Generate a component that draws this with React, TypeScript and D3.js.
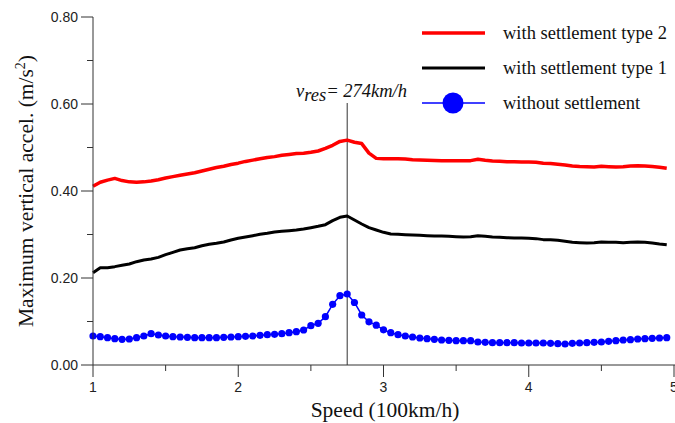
import React from "react";
import * as d3 from "d3";

const speeds: number[] = d3.range(0, 80).map((i) => +(1 + i * 0.05).toFixed(2));

const type2: number[] = [
  0.411, 0.42, 0.425, 0.429, 0.424, 0.421, 0.42, 0.421, 0.423, 0.426,
  0.43, 0.433, 0.436, 0.439, 0.442, 0.446, 0.45, 0.454, 0.457, 0.461,
  0.464, 0.468, 0.471, 0.474, 0.477, 0.479, 0.482, 0.484, 0.486, 0.487,
  0.489, 0.492, 0.498, 0.505, 0.514, 0.517, 0.512, 0.509, 0.487, 0.475,
  0.474, 0.474, 0.474, 0.4736, 0.472, 0.4713, 0.4706, 0.4702, 0.4698, 0.4698,
  0.4698, 0.4698, 0.4698, 0.4728, 0.4706, 0.469, 0.4683, 0.4675, 0.4671, 0.4667,
  0.4664, 0.466, 0.4637, 0.463, 0.4614, 0.4598, 0.4576, 0.4561, 0.4557, 0.4553,
  0.4568, 0.456, 0.4553, 0.456, 0.4576, 0.4583, 0.4576, 0.4561, 0.4545, 0.4521,
];

const type1: number[] = [
  0.2123, 0.2238, 0.2238, 0.2261, 0.2291, 0.2322, 0.2375, 0.2414, 0.2437, 0.2475,
  0.2536, 0.259, 0.2644, 0.2674, 0.2697, 0.2743, 0.2774, 0.2797, 0.2828, 0.2874,
  0.2912, 0.2943, 0.2973, 0.3004, 0.3027, 0.3057, 0.3073, 0.3088, 0.3103, 0.3126,
  0.3157, 0.3188, 0.3226, 0.3318, 0.3395, 0.3425, 0.3333, 0.3241, 0.3157, 0.3103,
  0.305, 0.3011, 0.3004, 0.2996, 0.2989, 0.2981, 0.2973, 0.2966, 0.2966, 0.2958,
  0.295, 0.2943, 0.295, 0.2973, 0.2958, 0.2943, 0.2935, 0.2928, 0.292, 0.292,
  0.2912, 0.2905, 0.2882, 0.2882, 0.2866, 0.2843, 0.282, 0.2813, 0.2805, 0.2813,
  0.2828, 0.282, 0.282, 0.2813, 0.282, 0.2828, 0.282, 0.2805, 0.2782, 0.2763,
];

const noSettlement: number[] = [
  0.0667, 0.0651, 0.0628, 0.0605, 0.059, 0.0598, 0.0628, 0.0667, 0.072, 0.069,
  0.0667, 0.0651, 0.0644, 0.0636, 0.0628, 0.0628, 0.0628, 0.0628, 0.0636, 0.0644,
  0.0651, 0.066, 0.0667, 0.0682, 0.0697, 0.0705, 0.072, 0.0743, 0.0766, 0.0805,
  0.0904, 0.0958, 0.111, 0.1395, 0.1594, 0.1632, 0.1437, 0.115, 0.0992, 0.0916,
  0.0808, 0.0743, 0.0697, 0.0667, 0.0644, 0.0621, 0.0605, 0.059, 0.0575, 0.0567,
  0.0559, 0.0559, 0.0559, 0.0529, 0.0521, 0.0513, 0.0513, 0.0513, 0.0513, 0.0506,
  0.0506, 0.0506, 0.0506, 0.0498, 0.049, 0.0483, 0.0498, 0.0506, 0.0513, 0.0521,
  0.0529, 0.0544, 0.0559, 0.0575, 0.0582, 0.0598, 0.0605, 0.0613, 0.0621, 0.0628,
];

const yMajorTicks: number[] = [0, 0.2, 0.4, 0.6, 0.8];
const yMinorTicks: number[] = [0.1, 0.3, 0.5, 0.7];
const xMajorTicks: number[] = [1, 2, 3, 4, 5];
const xMinorTicks: number[] = [1.5, 2.5, 3.5, 4.5];
const vRes = 2.75;

const legendItems = [
  { label: "with settlement type 2", color: "#ff0000", width: 3.5, marker: false },
  { label: "with settlement type 1", color: "#000000", width: 3, marker: false },
  { label: "without settlement", color: "#0000ff", width: 1.5, marker: true },
];

export default function App() {
  const W = 675;
  const H = 423;
  const x = d3.scaleLinear().domain([1, 5]).range([93, 674]);
  const y = d3.scaleLinear().domain([0, 0.8]).range([365, 17]);

  const line = d3
    .line<[number, number]>()
    .x((d) => x(d[0]))
    .y((d) => y(d[1]));

  const toPts = (vals: number[]) => vals.map((v, i) => [speeds[i], v] as [number, number]);

  const serif = "'Liberation Serif', 'Times New Roman', serif";
  const sans = "'Liberation Sans', Arial, sans-serif";
  const axisColor = "#333";

  return (
    <svg
      width={W}
      height={H}
      style={{ position: "absolute", left: 0, top: 0, background: "#fff" }}
    >
      {/* resonance line */}
      <line x1={x(vRes)} x2={x(vRes)} y1={103} y2={y(0)} stroke="#333" strokeWidth={1} />

      {/* series */}
      <path d={line(toPts(type2)) || ""} fill="none" stroke="#ff0000" strokeWidth={3.5} strokeLinejoin="round" />
      <path d={line(toPts(type1)) || ""} fill="none" stroke="#000" strokeWidth={3} strokeLinejoin="round" />
      <path d={line(toPts(noSettlement)) || ""} fill="none" stroke="#0000ff" strokeWidth={1.5} />
      {noSettlement.map((v, i) => (
        <circle key={i} cx={x(speeds[i])} cy={y(v)} r={3.6} fill="#0000ff" />
      ))}

      {/* axes */}
      <line x1={x(1)} x2={x(1)} y1={y(0.8)} y2={y(0)} stroke={axisColor} strokeWidth={1} />
      <line x1={x(1)} x2={W} y1={y(0)} y2={y(0)} stroke={axisColor} strokeWidth={1} />
      {yMajorTicks.map((t) => (
        <g key={"ym" + t}>
          <line x1={x(1) - 12} x2={x(1)} y1={y(t)} y2={y(t)} stroke={axisColor} />
          <text x={x(1) - 15} y={y(t)} dy="0.35em" textAnchor="end" fontFamily={sans} fontSize={14} fill="#222">
            {t.toFixed(2)}
          </text>
        </g>
      ))}
      {yMinorTicks.map((t) => (
        <line key={"yn" + t} x1={x(1) - 6} x2={x(1)} y1={y(t)} y2={y(t)} stroke={axisColor} />
      ))}
      {xMajorTicks.map((t) => (
        <g key={"xm" + t}>
          <line x1={x(t)} x2={x(t)} y1={y(0)} y2={y(0) + 12} stroke={axisColor} />
          <text x={x(t)} y={392} textAnchor="middle" fontFamily={sans} fontSize={14} fill="#222">
            {t}
          </text>
        </g>
      ))}
      {xMinorTicks.map((t) => (
        <line key={"xn" + t} x1={x(t)} x2={x(t)} y1={y(0)} y2={y(0) + 6} stroke={axisColor} />
      ))}

      {/* axis titles */}
      <text x={385} y={417} textAnchor="middle" fontFamily={serif} fontSize={21.5} fill="#111">
        Speed (100km/h)
      </text>
      <text
        transform={`translate(33, 191) rotate(-90)`}
        textAnchor="middle"
        fontFamily={serif}
        fontSize={21.5}
        fill="#111"
      >
        Maximum vertical accel. (m/s
        <tspan dy={-8} fontSize={14}>2</tspan>
        <tspan dy={8}>)</tspan>
      </text>

      {/* annotation */}
      <text x={296} y={97} fontFamily={serif} fontStyle="italic" fontSize={18.5} fill="#111">
        v
        <tspan dy={4}>res</tspan>
        <tspan dy={-4}>= 274km/h</tspan>
      </text>

      {/* legend */}
      {legendItems.map((it, i) => {
        const ly = 33 + i * 35;
        return (
          <g key={it.label}>
            <line x1={422} x2={485} y1={ly} y2={ly} stroke={it.color} strokeWidth={it.width} />
            {it.marker && <circle cx={453} cy={ly} r={10.5} fill={it.color} />}
            <text x={503} y={ly + 6} fontFamily={serif} fontSize={18.5} fill="#111">
              {it.label}
            </text>
          </g>
        );
      })}
    </svg>
  );
}
